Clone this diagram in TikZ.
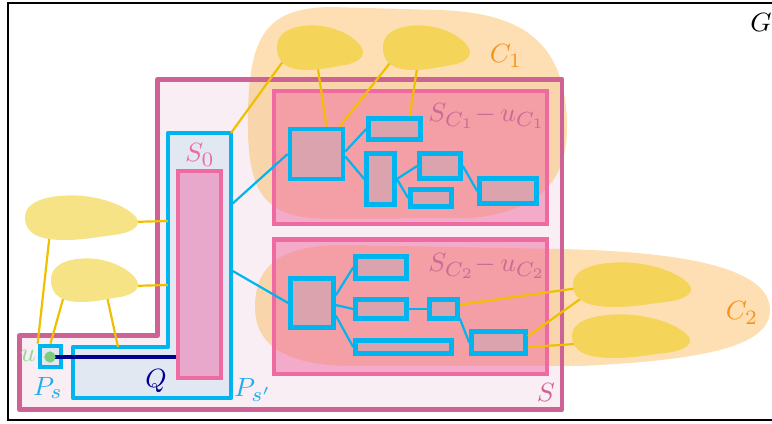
\documentclass[tikz,border=0pt]{standalone}
\usepackage{amsmath}
\usepackage{amssymb}

\definecolor{spink}{RGB}{207,98,148}
\definecolor{sback}{RGB}{249,238,244}
\definecolor{hpink}{RGB}{238,106,160}
\definecolor{szfill}{RGB}{232,168,204}
\definecolor{cblue}{RGB}{0,181,239}
\definecolor{boxfill}{RGB}{218,163,174}
\definecolor{pathfill}{RGB}{225,232,242}
\definecolor{corange}{RGB}{251,176,64}
\definecolor{lorange}{RGB}{247,148,29}
\definecolor{ylight}{RGB}{246,227,133}
\definecolor{ydark}{RGB}{244,213,90}
\definecolor{yline}{RGB}{240,192,0}
\definecolor{qnavy}{RGB}{0,0,145}
\definecolor{ugreen}{RGB}{125,205,125}
\definecolor{ulabel}{RGB}{150,215,150}
\definecolor{plabel}{RGB}{30,175,235}
\definecolor{sclabel}{RGB}{205,105,150}

\tikzset{
  part/.style 2 args={draw=cblue, line width=1.6pt, fill=boxfill, inner sep=0pt,
    minimum width=#1*0.012cm, minimum height=#2*0.012cm},
  comp/.style={fill=corange, fill opacity=0.4},
  scomp/.style={draw=hpink, line width=1.5pt, fill=hpink, fill opacity=0.5},
  yedge/.style={draw=yline, line width=0.75pt},
  bedge/.style={draw=cblue, line width=0.75pt},
}
\newcommand{\blob}[5]{%
  \fill[#1, shift={(#2,#3)}, xscale=#4, yscale=#5]
    (0,0.5) .. controls (0,0.05) and (0.3,0) .. (0.45,0.01)
    .. controls (0.72,0.04) and (0.93,0.3) .. (0.99,0.52)
    .. controls (1.03,0.7) and (0.95,0.85) .. (0.75,0.9)
    .. controls (0.6,0.95) and (0.5,1) .. (0.35,1)
    .. controls (0.12,1) and (0,0.85) .. (0,0.5) -- cycle;}

\begin{document}
\begin{tikzpicture}[x=0.012cm,y=-0.012cm,font=\fontsize{9.5}{11}\selectfont]
  \useasboundingbox (0,0) rectangle (772,424);
  \draw[line width=0.8pt] (8,3) rectangle (800,420);
  % the set S
  \fill[sback] (157.5,79.5) -- (562,79.5) -- (562,409.5) -- (19.5,409.5)
    -- (19.5,335.5) -- (157.5,335.5) -- cycle;
  % components C_1 and C_2
  \fill[comp] (248,130) .. controls (247,40) and (262,8) .. (330,7) -- (440,10)
    .. controls (520,13) and (566,40) .. (567,125)
    .. controls (568,180) and (540,212) .. (470,218) -- (330,219)
    .. controls (270,218) and (249,200) .. cycle;
  \fill[comp] (255,307) .. controls (255,262) and (285,246) .. (340,245) -- (560,249)
    .. controls (700,252) and (770,272) .. (770,310)
    .. controls (770,345) and (710,360) .. (580,366) -- (350,366)
    .. controls (285,365) and (255,345) .. cycle;
  \draw[scomp] (274,91) rectangle (547,224);
  \draw[scomp] (274,239.5) rectangle (547,374);
  \draw[spink, line width=1.7pt, line join=round] (157.5,79.5) -- (562,79.5)
    -- (562,409.5) -- (19.5,409.5) -- (19.5,335.5) -- (157.5,335.5) -- cycle;
  % the path P_s'
  \draw[cblue, fill=pathfill, line width=1.6pt, line join=round] (168,133) -- (231,133)
    -- (231,398) -- (73,398) -- (73,347) -- (168,347) -- cycle;
  \coordinate (pne) at (231,133);
  \coordinate (pe1) at (231,205);
  \coordinate (pe2) at (231,270);
  \coordinate (pw1) at (168,221);
  \coordinate (pw2) at (168,285);
  \coordinate (pq) at (118,347);
  \node[draw=hpink, fill=szfill, line width=1.6pt, inner sep=0pt,
    minimum width=43*0.012cm, minimum height=207*0.012cm] (s0) at (199.5,274.5) {};
  % parts of S_C1 - u_C1
  \node[part={53}{50}] (r1) at (316.5,154) {};
  \node[part={52}{21}] (r2) at (394.5,129) {};
  \node[part={28}{51}] (r3) at (380.5,179) {};
  \node[part={41}{25}] (r4) at (440,166) {};
  \node[part={41}{17}] (r5) at (431,198) {};
  \node[part={57}{25}] (r6) at (508,191) {};
  % parts of S_C2 - u_C2
  \node[part={43}{49}] (q1) at (312,303) {};
  \node[part={51}{22}] (q2) at (381,267.5) {};
  \node[part={51}{19}] (q3) at (381,309) {};
  \node[part={96}{13}] (q4) at (403.5,347) {};
  \node[part={28}{19}] (q5) at (443.5,309) {};
  \node[part={54}{22}] (q6) at (498.5,342.5) {};
  \node[part={21}{21}, fill=pathfill] (ps) at (50.5,356.5) {};
  % blob ends
  \coordinate (b1l) at (284,60);
  \coordinate (b1s) at (317,62);
  \coordinate (b2l) at (394,58);
  \coordinate (b2s) at (418,62);
  \coordinate (ae) at (130,222);
  \coordinate (as) at (50,232);
  \coordinate (be) at (130,286);
  \coordinate (bsw) at (65,292);
  \coordinate (bse) at (106,292);
  \coordinate (c1l) at (600,285);
  \coordinate (c2l) at (620,341);
  % edges
  \draw[bedge] (pe1) -- (r1.west);
  \draw[bedge] (pe2) -- (q1.west);
  \draw[bedge] (r1.5) -- (r2.west);
  \draw[bedge] (r1.-5) -- (r3.west);
  \draw[bedge] (r3.east) -- (r4.west);
  \draw[bedge] (r3.east) -- (r5.west);
  \draw[bedge] (r4.east) -- (r6.west);
  \draw[bedge] (q1.18) -- (q2.west);
  \draw[bedge] (q1.-5) -- (q3.west);
  \draw[bedge] (q1.-28) -- (q4.west);
  \draw[bedge] (q3.east) -- (q5.west);
  \draw[bedge] (q5.-30) -- (q6.west);
  \draw[yedge] (b1l) -- (pne);
  \draw[yedge] (b1s) -- (r1.70);
  \draw[yedge] (b2l) -- (r1.50);
  \draw[yedge] (b2s) -- (r2.40);
  \draw[yedge] (ae) -- (pw1);
  \draw[yedge] (be) -- (pw2);
  \draw[yedge] (as) -- (ps.north west);
  \draw[yedge] (bsw) -- (ps.north);
  \draw[yedge] (bse) -- (pq);
  \draw[yedge] (q5.15) -- (c1l);
  \draw[yedge] (q6.12) -- (c1l);
  \draw[yedge] (q6.-9) -- (c2l);
  % the path Q
  \coordinate (u) at (50,357);
  \draw[qnavy, line width=1.5pt] (u) -- (u -| s0.west);
  \node[circle, fill=ugreen, inner sep=0pt, minimum size=0.135cm] (udot) at (u) {};
  % vertex blobs
  \blob{ydark}{277}{25}{86}{45}
  \blob{ydark}{383}{25}{87}{45}
  \blob{ylight}{25}{195}{113}{45}
  \blob{ylight}{51}{258}{87}{44}
  \blob{ydark}{573}{262}{118}{45}
  \blob{ydark}{572}{314}{118}{44}
  % labels
  \node[text=lorange] (c1lab) at (506,56) {$C_1$};
  \node[text=lorange] (c2lab) at (742,313) {$C_2$};
  \node[text=sclabel] (sc1lab) at (487,116) {$S_{C_1}{-}\,u_{C_1}$};
  \node[text=sclabel] (sc2lab) at (487,266) {$S_{C_2}{-}\,u_{C_2}$};
  \node[text=hpink] (s0lab) at (200,155) {$S_0$};
  \node[text=qnavy] (qlab) at (156,381) {$Q$};
  \node[text=plabel] (pslab) at (48,388) {$P_s$};
  \node[text=plabel] (psplab) at (253,390) {$P_{s'}$};
  \node[text=ulabel] (ulab) at (28,356) {$u$};
  \node[text=spink] (slab) at (546,392) {$S$};
  \node (glab) at (761,22) {$G$};
\end{tikzpicture}
\end{document}
